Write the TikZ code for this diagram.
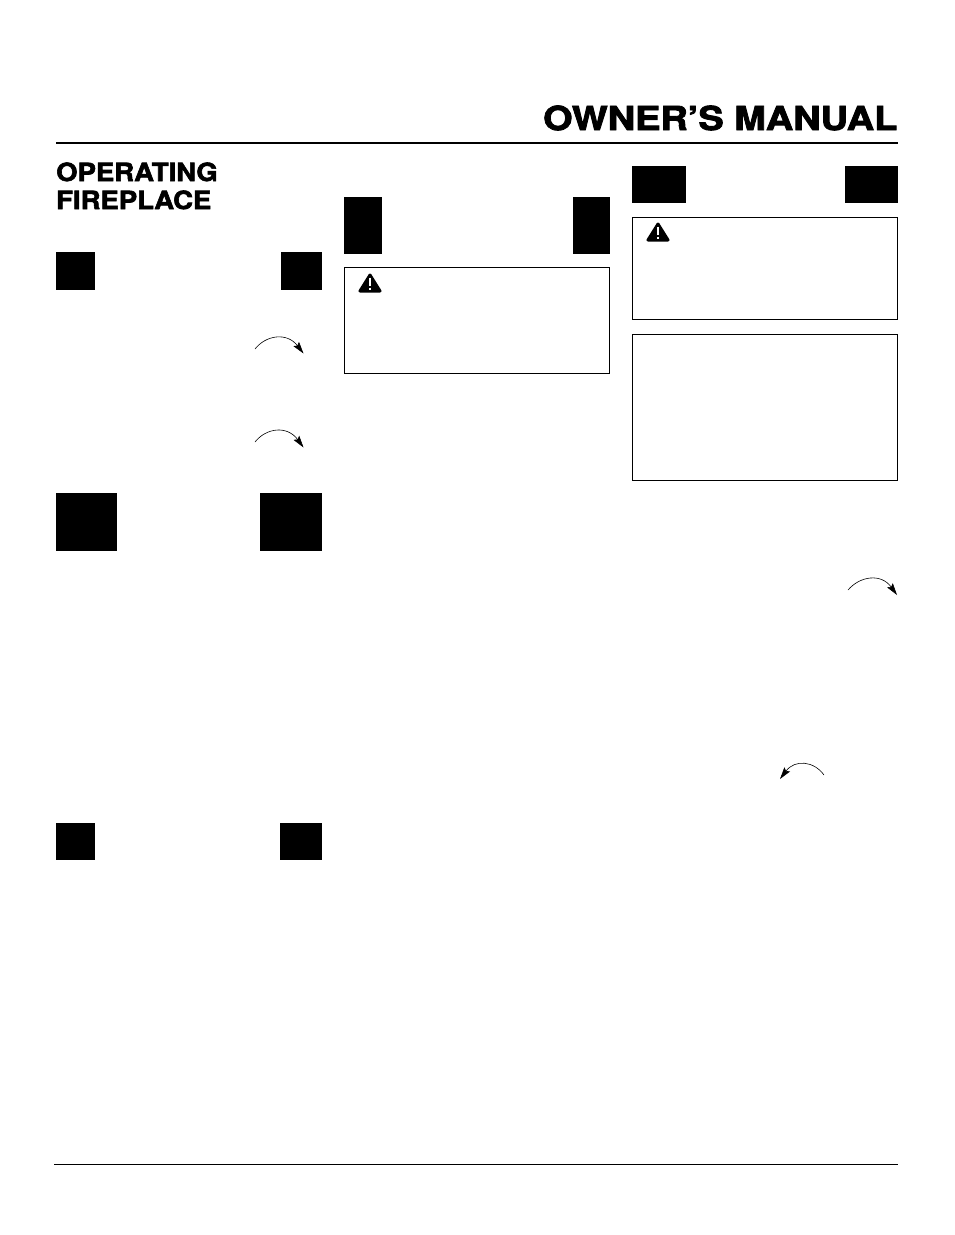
\documentclass[tikz,border=0pt]{standalone}
\usepackage{fontspec}
\usepackage{xcolor}
\usetikzlibrary{arrows.meta}
\newfontfamily\headfont[FakeBold=2.6,FakeStretch=1.15]{TeX Gyre Heros Bold}
\newfontfamily\subheadfont[FakeBold=2.4,FakeStretch=1.1]{TeX Gyre Heros Bold}
\definecolor{ink}{HTML}{000000}
\tikzset{
  rulethick/.style={draw=ink, line width=2pt},
  rulethin/.style={draw=ink, line width=1pt},
  blockfill/.style={fill=ink},
  warnbox/.style={draw=ink, line width=1pt},
  warntri/.style={draw=ink, fill=ink, line width=3pt, line join=round},
  warnbar/.style={draw=white, line width=1.2pt},
  turn/.style={draw=ink, line width=0.6pt, -{Stealth[length=12pt,width=7pt,inset=2pt]}},
  maintitle/.style={font=\headfont\fontsize{33}{33}\selectfont, anchor=base east, inner sep=0pt},
  subtitle/.style={font=\subheadfont\fontsize{25}{28}\selectfont, anchor=base west, inner sep=0pt}
}
\begin{document}
\begin{tikzpicture}[x=1pt,y=-1pt]
  \useasboundingbox (0,0) rectangle (954,1235);

  % header
  \node[maintitle] (manual) at (897.5,130) {OWNER’S MANUAL};
  \draw[rulethick] (56,143) -- (897.5,143);
  \draw[rulethin] (54,1164) -- (897.5,1164);

  \node[subtitle] (operating) at (56,181) {OPERATING};
  \node[subtitle] (fireplace) at (56,209) {FIREPLACE};

  % black blocks, first column
  \fill[blockfill] (56,252) rectangle (95,290);
  \fill[blockfill] (281,252) rectangle (322,290);
  \fill[blockfill] (56,493) rectangle (117,551);
  \fill[blockfill] (260,493) rectangle (322,551);
  \fill[blockfill] (56,823) rectangle (95,860);
  \fill[blockfill] (280,823) rectangle (322,860);

  % second column
  \fill[blockfill] (344,197) rectangle (382,254);
  \fill[blockfill] (573,197) rectangle (610,254);
  \draw[warnbox] (344.5,267.5) rectangle (609.5,373.5);

  % third column
  \fill[blockfill] (632,166) rectangle (686,203);
  \fill[blockfill] (845,166) rectangle (898,203);
  \draw[warnbox] (632.5,217.5) rectangle (897.5,319.5);
  \draw[warnbox] (632.5,334.5) rectangle (897.5,480.5);

  % warning signs
  \draw[warntri] (360,291) -- (380,291) -- (370,275) -- cycle;
  \draw[warnbar] (370,277.5) -- (370,286);
  \draw[warnbar] (370,287.5) -- (370,289.5);
  \draw[warntri] (648,240) -- (668,240) -- (658,224) -- cycle;
  \draw[warnbar] (658,226.5) -- (658,235);
  \draw[warnbar] (658,236.5) -- (658,238.5);

  % turning arrows
  \coordinate (turnAa) at (255,349);
  \coordinate (turnAb) at (303.5,353.5);
  \coordinate (turnBa) at (255,442);
  \coordinate (turnBb) at (303.5,447.5);
  \coordinate (turnCa) at (848,590);
  \coordinate (turnCb) at (897,595);
  \coordinate (turnDa) at (824,775);
  \coordinate (turnDb) at (780,779);
  \draw[turn] (turnAa) .. controls (266,335) and (287,332) .. (turnAb);
  \draw[turn] (turnBa) .. controls (266,428) and (287,425) .. (turnBb);
  \draw[turn] (turnCa) .. controls (860,576) and (881,573) .. (turnCb);
  \draw[turn] (turnDa) .. controls (814,761) and (795,759) .. (turnDb);
\end{tikzpicture}
\end{document}
